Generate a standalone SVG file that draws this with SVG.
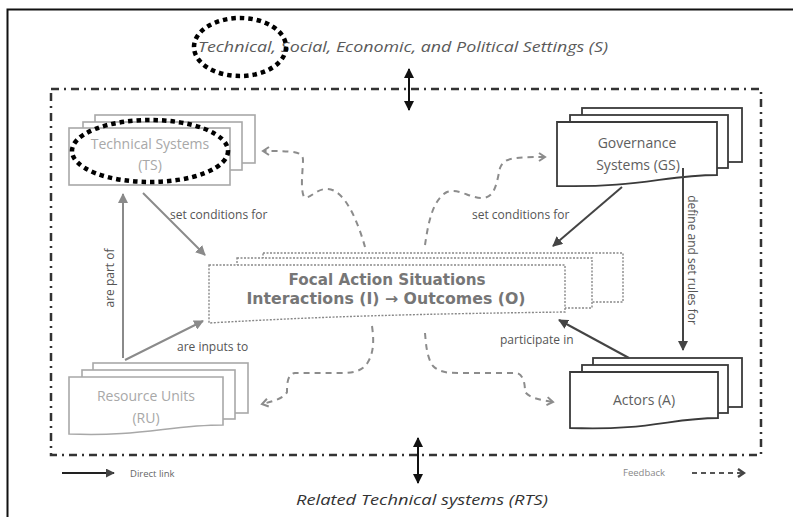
<svg xmlns="http://www.w3.org/2000/svg" width="793" height="517" viewBox="0 0 793 517">
  <defs>
    <style>
      .lbl { font-family: "Open Sans", "Liberation Sans", sans-serif; font-size: 12px; fill: #555; }
      .light { font-family: "Open Sans", "Liberation Sans", sans-serif; font-size: 14px; fill: #a8a8a8; text-anchor: middle; }
      .dark { font-family: "Open Sans", "Liberation Sans", sans-serif; font-size: 14px; fill: #5e5e5e; text-anchor: middle; }
      .focal { font-family: "DejaVu Sans", "Liberation Sans", sans-serif; font-size: 15px; font-weight: bold; fill: #767676; text-anchor: middle; }
      .setting { font-family: "Open Sans", "Liberation Sans", sans-serif; font-size: 14px; font-style: italic; fill: #5a5a5a; text-anchor: middle; }
      .sheetL { fill: #fff; stroke: #a8a8a8; stroke-width: 1.6; }
      .sheetD { fill: #fff; stroke: #3a3a3a; stroke-width: 1.8; }
      .sheetF { fill: #fff; stroke: #888; stroke-width: 1.4; stroke-dasharray: 2 1.5; }
      .linkL { fill: none; stroke: #8a8a8a; stroke-width: 2; }
      .linkD { fill: none; stroke: #444; stroke-width: 2; }
      .fb { fill: none; stroke: #8c8c8c; stroke-width: 2; stroke-dasharray: 6 5; }
      .ring { fill: none; stroke: #000; stroke-width: 4.5; stroke-dasharray: 4.5 4; }
    </style>
    <marker id="headL" viewBox="0 0 10 10" refX="9" refY="5" markerWidth="5" markerHeight="5" orient="auto">
      <path d="M0,0 L10,5 L0,10 Z" fill="#8a8a8a"/>
    </marker>
    <marker id="headD" viewBox="0 0 10 10" refX="9" refY="5" markerWidth="5" markerHeight="5" orient="auto">
      <path d="M0,0 L10,5 L0,10 Z" fill="#444"/>
    </marker>
    <marker id="headK" viewBox="0 0 10 10" refX="9" refY="5" markerWidth="5" markerHeight="5" orient="auto-start-reverse">
      <path d="M0,0 L10,5 L0,10 Z" fill="#111"/>
    </marker>
    <marker id="chev" viewBox="0 0 10 10" refX="8" refY="5" markerWidth="5" markerHeight="5" orient="auto">
      <path d="M2,1 L8,5 L2,9" fill="none" stroke="#8c8c8c" stroke-width="2"/>
    </marker>
    <marker id="chevD" viewBox="0 0 10 10" refX="8" refY="5" markerWidth="5" markerHeight="5" orient="auto">
      <path d="M2,1 L8,5 L2,9" fill="none" stroke="#444" stroke-width="2.4"/>
    </marker>
  </defs>

  <rect width="793" height="517" fill="#fff"/>

  <!-- page frame -->
  <path d="M7.5,517 V9.5 H793" fill="none" stroke="#111" stroke-width="2"/>

  <!-- system boundary -->
  <rect x="51" y="89" width="710" height="366" fill="none" stroke="#333" stroke-width="2.5" stroke-dasharray="8 5 2 5"/>

  <!-- settings labels -->
  <text class="setting" x="403" y="52" textLength="410" lengthAdjust="spacingAndGlyphs">Technical, Social, Economic, and Political Settings (S)</text>
  <text class="setting" x="422" y="505" style="fill:#333" textLength="252" lengthAdjust="spacingAndGlyphs">Related Technical systems (RTS)</text>

  <!-- Technical Systems -->
  <g id="node-ts">
    <rect class="sheetL" x="95" y="115" width="160" height="48"/>
    <rect class="sheetL" x="83" y="122" width="159" height="48"/>
    <rect class="sheetL" x="69" y="128" width="161" height="57"/>
    <text class="light" x="150" y="149">Technical Systems</text>
    <text class="light" x="150" y="170">(TS)</text>
  </g>

  <!-- Governance Systems -->
  <g id="node-gs">
    <rect class="sheetD" x="582" y="108" width="160" height="54"/>
    <rect class="sheetD" x="570" y="115" width="158" height="53"/>
    <path class="sheetD" d="M557,122 H717 V175 C665,175 640,188 557,186 Z"/>
    <text class="dark" x="637" y="148">Governance</text>
    <text class="dark" x="638" y="170">Systems (GS)</text>
  </g>

  <!-- Resource Units -->
  <g id="node-ru">
    <rect class="sheetL" x="93" y="363" width="155" height="50"/>
    <rect class="sheetL" x="82" y="370" width="153" height="49"/>
    <path class="sheetL" d="M69,377 H223 V425 C170,425 140,437 69,434 Z"/>
    <text class="light" x="146" y="401">Resource Units</text>
    <text class="light" x="146" y="423">(RU)</text>
  </g>

  <!-- Actors -->
  <g id="node-a">
    <rect class="sheetD" x="593" y="358" width="149" height="49"/>
    <rect class="sheetD" x="582" y="365" width="146" height="48"/>
    <path class="sheetD" d="M570,372 H718 V418 C670,418 650,431 570,428 Z"/>
    <text class="dark" x="644" y="405">Actors (A)</text>
  </g>

  <!-- Focal Action Situations -->
  <g id="node-fas">
    <rect class="sheetF" x="263" y="253" width="360" height="49"/>
    <rect class="sheetF" x="237" y="258" width="355" height="50"/>
    <path class="sheetF" d="M209,265 H565 V312 C420,314 330,316 209,323 Z"/>
    <text class="focal" x="387" y="285" textLength="197" lengthAdjust="spacingAndGlyphs">Focal Action Situations</text>
    <text class="focal" x="386" y="304" textLength="279" lengthAdjust="spacingAndGlyphs">Interactions (I) → Outcomes (O)</text>
  </g>

  <!-- connectors -->
  <g id="connectors">
    <!-- direct links -->
    <line class="linkL" x1="143" y1="193" x2="205" y2="255" marker-end="url(#headL)"/>
    <line class="linkL" x1="123" y1="358" x2="123" y2="194" marker-end="url(#headL)"/>
    <line class="linkL" x1="125" y1="360" x2="203" y2="321" marker-end="url(#headL)"/>
    <line class="linkD" x1="622" y1="187" x2="553" y2="246" marker-end="url(#headD)"/>
    <line class="linkD" x1="683" y1="168" x2="683" y2="350" marker-end="url(#headD)"/>
    <line class="linkD" x1="629" y1="358" x2="559" y2="320" marker-end="url(#headD)"/>

    <!-- feedback loops -->
    <path class="fb" d="M365,247 C358,222 345,190 328,189 C316,188 310,200 304,197 C300,188 303,170 303,160 C303,151 292,151 263,151" marker-end="url(#chev)"/>
    <path class="fb" d="M425,245 C428,225 432,200 447,192 C458,188 470,198 482,198 C496,198 497,180 500,168 C504,158 512,157 545,157" marker-end="url(#chev)"/>
    <path class="fb" d="M372,326 C374,340 374,352 368,362 C362,372 352,373 340,373 H295 C287,374 287,385 287,392 C284,398 275,401 262,404" marker-end="url(#chev)"/>
    <path class="fb" d="M425,333 C426,345 427,358 433,366 C440,373 450,373 460,373 H517 C524,375 525,385 525,392 C530,398 540,400 553,402" marker-end="url(#chev)"/>

    <!-- boundary exchanges -->
    <line x1="409" y1="69" x2="409" y2="110" stroke="#111" stroke-width="2" marker-start="url(#headK)" marker-end="url(#headK)"/>
    <line x1="418" y1="438" x2="418" y2="483" stroke="#111" stroke-width="2" marker-start="url(#headK)" marker-end="url(#headK)"/>

    <!-- link labels -->
    <text class="lbl" x="170" y="219">set conditions for</text>
    <text class="lbl" x="472" y="219">set conditions for</text>
    <text class="lbl" x="177" y="351">are inputs to</text>
    <text class="lbl" x="500" y="344">participate in</text>
    <text class="lbl" transform="translate(114,278) rotate(-90)" text-anchor="middle">are part of</text>
    <text class="lbl" transform="translate(688,260) rotate(90)" text-anchor="middle">define and set rules for</text>
  </g>

  <!-- legend -->
  <g id="legend">
    <line x1="62" y1="473" x2="114" y2="473" stroke="#222" stroke-width="1.8" marker-end="url(#headD)"/>
    <text x="130" y="477" font-family="'Open Sans', 'Liberation Sans', sans-serif" font-size="9.5" fill="#666">Direct link</text>
    <text x="623" y="476" font-family="'Open Sans', 'Liberation Sans', sans-serif" font-size="9.5" fill="#888">Feedback</text>
    <line x1="692" y1="473" x2="744" y2="473" fill="none" stroke="#555" stroke-width="2" stroke-dasharray="5 4" marker-end="url(#chevD)"/>
  </g>

  <!-- highlight rings -->
  <g id="highlights">
    <ellipse class="ring" cx="240" cy="47" rx="46" ry="29"/>
    <ellipse class="ring" cx="150" cy="151" rx="78" ry="31"/>
  </g>
</svg>
